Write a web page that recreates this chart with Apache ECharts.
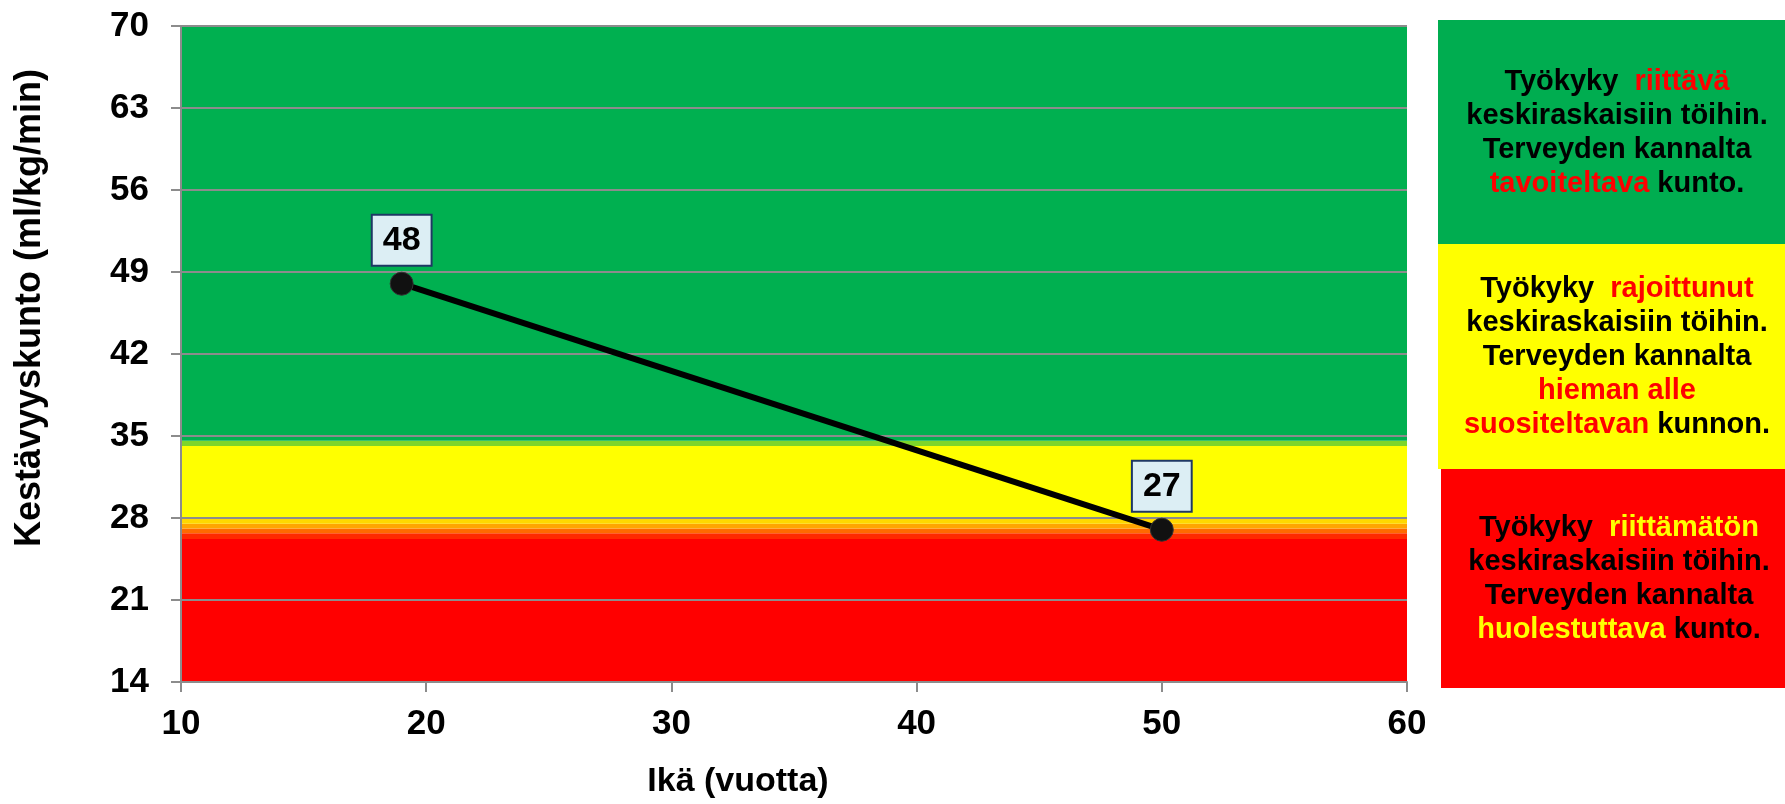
<!DOCTYPE html>
<html>
<head>
<meta charset="utf-8">
<script src="https://cdn.jsdelivr.net/npm/echarts@6/dist/echarts.min.js"></script>
<style>
html,body{margin:0;padding:0;background:#fff;}
#chart{width:1785px;height:804px;}
</style>
</head>
<body>
<div id="chart"></div>
<script>
// ---- data ----
const ages = [19, 50];
const fitness = [48, 27];
const xRange = [10, 60];
const xStep = 10;
const yRange = [14, 70];
const yStep = 7;
// fitness zones (lower, upper) in ml/kg/min
const bandLower = [14, 26.2, 26.7, 27.1, 27.5, 28, 34.15, 34.6];
const bandUpper = [26.2, 26.7, 27.1, 27.5, 28, 34.15, 34.6, 70];
const xTitle = 'Ikä (vuotta)';
const yTitle = 'Kestävyyskunto (ml/kg/min)';
const panelTexts = [
  '{k|Työkyky}  {r|riittävä}\n{k|keskiraskaisiin töihin.}\n{k|Terveyden kannalta}\n{r|tavoiteltava} {k|kunto.}',
  '{k|Työkyky}  {r|rajoittunut}\n{k|keskiraskaisiin töihin.}\n{k|Terveyden kannalta}\n{r|hieman alle}\n{r|suositeltavan} {k|kunnon.}',
  '{k|Työkyky}  {y|riittämätön}\n{k|keskiraskaisiin töihin.}\n{k|Terveyden kannalta}\n{y|huolestuttava} {k|kunto.}'
];

// ---- styles ----
const bandColors = ['#FF0000', '#FF2A00', '#FF6A00', '#FFA500', '#FFD800', '#FFFF00', '#7ED52A', '#00B050'];
const panelBoxes = [
  {x: 1438, y: 20, w: 347, h: 224, fill: '#00AD50', cx: 1617, cy: 133},
  {x: 1438, y: 244, w: 347, h: 225, fill: '#FFFF00', cx: 1617, cy: 357},
  {x: 1441, y: 469, w: 344, h: 219, fill: '#FF0000', cx: 1619, cy: 579}
];
const FONT = 'Arial, "Liberation Sans", sans-serif';
const richStyles = {
  k: {fill: '#000000', fontSize: 29, fontWeight: 'bold', fontFamily: FONT, lineHeight: 34},
  r: {fill: '#FF0000', fontSize: 29, fontWeight: 'bold', fontFamily: FONT, lineHeight: 34},
  y: {fill: '#FFFF00', fontSize: 29, fontWeight: 'bold', fontFamily: FONT, lineHeight: 34}
};

const chart = echarts.init(document.getElementById('chart'), null, {renderer: 'canvas'});

const bandData = bandLower.map((lo, i) => [
  {yAxis: lo, itemStyle: {color: bandColors[i], opacity: 1}},
  {yAxis: bandUpper[i]}
]);

const graphics = [];
panelBoxes.forEach((b, i) => {
  graphics.push({
    type: 'rect', silent: true, z: 1,
    shape: {x: b.x, y: b.y, width: b.w, height: b.h},
    style: {fill: b.fill}
  });
  graphics.push({
    type: 'text', silent: true, z: 2,
    x: b.cx, y: b.cy,
    style: {
      text: panelTexts[i], rich: richStyles,
      align: 'center', verticalAlign: 'middle',
      fill: '#000', fontSize: 29, fontWeight: 'bold', fontFamily: FONT, lineHeight: 34
    }
  });
});

const axisGray = '#8C8C8C';
chart.setOption({
  animation: false,
  backgroundColor: '#fff',
  grid: {left: 181, right: 378, top: 26, bottom: 119, containLabel: false},
  xAxis: {
    type: 'value', min: xRange[0], max: xRange[1], interval: xStep,
    name: xTitle, nameLocation: 'middle', nameGap: 83,
    nameTextStyle: {fontSize: 34, fontWeight: 'bold', color: '#000', fontFamily: FONT, padding: [0, 112, 0, 0]},
    axisLine: {show: true, lineStyle: {color: axisGray, width: 2}},
    axisTick: {show: true, inside: false, length: 10, lineStyle: {color: axisGray, width: 2}},
    axisLabel: {fontSize: 35, fontWeight: 'bold', color: '#000', fontFamily: FONT, margin: 25, showMinLabel: true, showMaxLabel: true},
    splitLine: {show: false}
  },
  yAxis: {
    type: 'value', min: yRange[0], max: yRange[1], interval: yStep,
    name: yTitle, nameLocation: 'middle', nameGap: 133, nameRotate: 90,
    nameTextStyle: {fontSize: 36, fontWeight: 'bold', color: '#000', fontFamily: FONT, padding: [0, 0, 0, 92]},
    axisLine: {show: true, lineStyle: {color: axisGray, width: 2}},
    axisTick: {show: true, inside: false, length: 10, lineStyle: {color: axisGray, width: 2}},
    axisLabel: {fontSize: 35, fontWeight: 'bold', color: '#000', fontFamily: FONT, margin: 32, showMinLabel: true, showMaxLabel: true},
    splitLine: {show: true, lineStyle: {color: axisGray, width: 2}}
  },
  series: [
    {
      type: 'line', data: [], z: -1, silent: true,
      markArea: {silent: true, z: -1, data: bandData}
    },
    {
      type: 'line', z: 5,
      data: ages.map((a, i) => [a, fitness[i]]),
      symbol: 'circle', symbolSize: 23,
      itemStyle: {color: '#111', borderColor: '#333', borderWidth: 1},
      lineStyle: {color: '#000', width: 6},
      label: {
        show: true, position: 'top', distance: 7,
        formatter: p => String(p.value[1]),
        fontSize: 34, fontWeight: 'bold', color: '#000', fontFamily: FONT,
        lineHeight: 33,
        backgroundColor: '#DCEEF4', borderColor: '#1F3864', borderWidth: 2,
        padding: [8, 10, 8, 10]
      }
    }
  ],
  graphic: graphics
});
</script>
</body>
</html>
